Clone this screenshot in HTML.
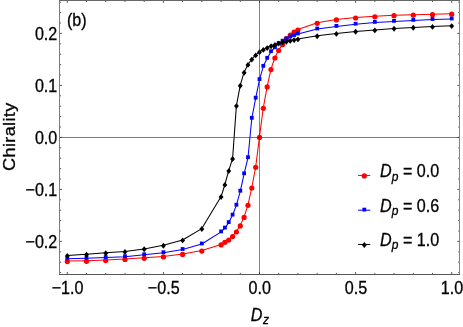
<!DOCTYPE html>
<html><head><meta charset="utf-8"><style>
html,body{margin:0;padding:0;background:#fff;}
svg{display:block;will-change:transform;}
text{font-family:"Liberation Sans",sans-serif;font-size:18.1px;fill:#000;stroke:#000;stroke-width:0.3px;}
</style></head><body>
<svg width="463" height="327" viewBox="0 0 463 327">
<rect width="463" height="327" fill="#fff"/>
<line x1="67.3" y1="274.4" x2="67.3" y2="272.0" stroke="#444" stroke-width="0.9"/>
<line x1="67.3" y1="0.5" x2="67.3" y2="2.9" stroke="#444" stroke-width="0.9"/>
<line x1="86.5" y1="274.4" x2="86.5" y2="272.9" stroke="#444" stroke-width="0.9"/>
<line x1="86.5" y1="0.5" x2="86.5" y2="2.0" stroke="#444" stroke-width="0.9"/>
<line x1="105.7" y1="274.4" x2="105.7" y2="272.9" stroke="#444" stroke-width="0.9"/>
<line x1="105.7" y1="0.5" x2="105.7" y2="2.0" stroke="#444" stroke-width="0.9"/>
<line x1="125.0" y1="274.4" x2="125.0" y2="272.9" stroke="#444" stroke-width="0.9"/>
<line x1="125.0" y1="0.5" x2="125.0" y2="2.0" stroke="#444" stroke-width="0.9"/>
<line x1="144.2" y1="274.4" x2="144.2" y2="272.9" stroke="#444" stroke-width="0.9"/>
<line x1="144.2" y1="0.5" x2="144.2" y2="2.0" stroke="#444" stroke-width="0.9"/>
<line x1="163.4" y1="274.4" x2="163.4" y2="272.0" stroke="#444" stroke-width="0.9"/>
<line x1="163.4" y1="0.5" x2="163.4" y2="2.9" stroke="#444" stroke-width="0.9"/>
<line x1="182.6" y1="274.4" x2="182.6" y2="272.9" stroke="#444" stroke-width="0.9"/>
<line x1="182.6" y1="0.5" x2="182.6" y2="2.0" stroke="#444" stroke-width="0.9"/>
<line x1="201.8" y1="274.4" x2="201.8" y2="272.9" stroke="#444" stroke-width="0.9"/>
<line x1="201.8" y1="0.5" x2="201.8" y2="2.0" stroke="#444" stroke-width="0.9"/>
<line x1="221.1" y1="274.4" x2="221.1" y2="272.9" stroke="#444" stroke-width="0.9"/>
<line x1="221.1" y1="0.5" x2="221.1" y2="2.0" stroke="#444" stroke-width="0.9"/>
<line x1="240.3" y1="274.4" x2="240.3" y2="272.9" stroke="#444" stroke-width="0.9"/>
<line x1="240.3" y1="0.5" x2="240.3" y2="2.0" stroke="#444" stroke-width="0.9"/>
<line x1="259.5" y1="274.4" x2="259.5" y2="272.0" stroke="#444" stroke-width="0.9"/>
<line x1="259.5" y1="0.5" x2="259.5" y2="2.9" stroke="#444" stroke-width="0.9"/>
<line x1="278.7" y1="274.4" x2="278.7" y2="272.9" stroke="#444" stroke-width="0.9"/>
<line x1="278.7" y1="0.5" x2="278.7" y2="2.0" stroke="#444" stroke-width="0.9"/>
<line x1="297.9" y1="274.4" x2="297.9" y2="272.9" stroke="#444" stroke-width="0.9"/>
<line x1="297.9" y1="0.5" x2="297.9" y2="2.0" stroke="#444" stroke-width="0.9"/>
<line x1="317.2" y1="274.4" x2="317.2" y2="272.9" stroke="#444" stroke-width="0.9"/>
<line x1="317.2" y1="0.5" x2="317.2" y2="2.0" stroke="#444" stroke-width="0.9"/>
<line x1="336.4" y1="274.4" x2="336.4" y2="272.9" stroke="#444" stroke-width="0.9"/>
<line x1="336.4" y1="0.5" x2="336.4" y2="2.0" stroke="#444" stroke-width="0.9"/>
<line x1="355.6" y1="274.4" x2="355.6" y2="272.0" stroke="#444" stroke-width="0.9"/>
<line x1="355.6" y1="0.5" x2="355.6" y2="2.9" stroke="#444" stroke-width="0.9"/>
<line x1="374.8" y1="274.4" x2="374.8" y2="272.9" stroke="#444" stroke-width="0.9"/>
<line x1="374.8" y1="0.5" x2="374.8" y2="2.0" stroke="#444" stroke-width="0.9"/>
<line x1="394.0" y1="274.4" x2="394.0" y2="272.9" stroke="#444" stroke-width="0.9"/>
<line x1="394.0" y1="0.5" x2="394.0" y2="2.0" stroke="#444" stroke-width="0.9"/>
<line x1="413.3" y1="274.4" x2="413.3" y2="272.9" stroke="#444" stroke-width="0.9"/>
<line x1="413.3" y1="0.5" x2="413.3" y2="2.0" stroke="#444" stroke-width="0.9"/>
<line x1="432.5" y1="274.4" x2="432.5" y2="272.9" stroke="#444" stroke-width="0.9"/>
<line x1="432.5" y1="0.5" x2="432.5" y2="2.0" stroke="#444" stroke-width="0.9"/>
<line x1="451.7" y1="274.4" x2="451.7" y2="272.0" stroke="#444" stroke-width="0.9"/>
<line x1="451.7" y1="0.5" x2="451.7" y2="2.9" stroke="#444" stroke-width="0.9"/>
<line x1="59.6" y1="272.6" x2="61.1" y2="272.6" stroke="#444" stroke-width="0.9"/>
<line x1="459.7" y1="272.6" x2="458.2" y2="272.6" stroke="#444" stroke-width="0.9"/>
<line x1="59.6" y1="262.2" x2="61.1" y2="262.2" stroke="#444" stroke-width="0.9"/>
<line x1="459.7" y1="262.2" x2="458.2" y2="262.2" stroke="#444" stroke-width="0.9"/>
<line x1="59.6" y1="251.8" x2="61.1" y2="251.8" stroke="#444" stroke-width="0.9"/>
<line x1="459.7" y1="251.8" x2="458.2" y2="251.8" stroke="#444" stroke-width="0.9"/>
<line x1="59.6" y1="241.4" x2="62.0" y2="241.4" stroke="#444" stroke-width="0.9"/>
<line x1="459.7" y1="241.4" x2="457.3" y2="241.4" stroke="#444" stroke-width="0.9"/>
<line x1="59.6" y1="231.0" x2="61.1" y2="231.0" stroke="#444" stroke-width="0.9"/>
<line x1="459.7" y1="231.0" x2="458.2" y2="231.0" stroke="#444" stroke-width="0.9"/>
<line x1="59.6" y1="220.6" x2="61.1" y2="220.6" stroke="#444" stroke-width="0.9"/>
<line x1="459.7" y1="220.6" x2="458.2" y2="220.6" stroke="#444" stroke-width="0.9"/>
<line x1="59.6" y1="210.2" x2="61.1" y2="210.2" stroke="#444" stroke-width="0.9"/>
<line x1="459.7" y1="210.2" x2="458.2" y2="210.2" stroke="#444" stroke-width="0.9"/>
<line x1="59.6" y1="199.8" x2="61.1" y2="199.8" stroke="#444" stroke-width="0.9"/>
<line x1="459.7" y1="199.8" x2="458.2" y2="199.8" stroke="#444" stroke-width="0.9"/>
<line x1="59.6" y1="189.4" x2="62.0" y2="189.4" stroke="#444" stroke-width="0.9"/>
<line x1="459.7" y1="189.4" x2="457.3" y2="189.4" stroke="#444" stroke-width="0.9"/>
<line x1="59.6" y1="179.0" x2="61.1" y2="179.0" stroke="#444" stroke-width="0.9"/>
<line x1="459.7" y1="179.0" x2="458.2" y2="179.0" stroke="#444" stroke-width="0.9"/>
<line x1="59.6" y1="168.6" x2="61.1" y2="168.6" stroke="#444" stroke-width="0.9"/>
<line x1="459.7" y1="168.6" x2="458.2" y2="168.6" stroke="#444" stroke-width="0.9"/>
<line x1="59.6" y1="158.2" x2="61.1" y2="158.2" stroke="#444" stroke-width="0.9"/>
<line x1="459.7" y1="158.2" x2="458.2" y2="158.2" stroke="#444" stroke-width="0.9"/>
<line x1="59.6" y1="147.8" x2="61.1" y2="147.8" stroke="#444" stroke-width="0.9"/>
<line x1="459.7" y1="147.8" x2="458.2" y2="147.8" stroke="#444" stroke-width="0.9"/>
<line x1="59.6" y1="137.4" x2="62.0" y2="137.4" stroke="#444" stroke-width="0.9"/>
<line x1="459.7" y1="137.4" x2="457.3" y2="137.4" stroke="#444" stroke-width="0.9"/>
<line x1="59.6" y1="127.0" x2="61.1" y2="127.0" stroke="#444" stroke-width="0.9"/>
<line x1="459.7" y1="127.0" x2="458.2" y2="127.0" stroke="#444" stroke-width="0.9"/>
<line x1="59.6" y1="116.6" x2="61.1" y2="116.6" stroke="#444" stroke-width="0.9"/>
<line x1="459.7" y1="116.6" x2="458.2" y2="116.6" stroke="#444" stroke-width="0.9"/>
<line x1="59.6" y1="106.2" x2="61.1" y2="106.2" stroke="#444" stroke-width="0.9"/>
<line x1="459.7" y1="106.2" x2="458.2" y2="106.2" stroke="#444" stroke-width="0.9"/>
<line x1="59.6" y1="95.8" x2="61.1" y2="95.8" stroke="#444" stroke-width="0.9"/>
<line x1="459.7" y1="95.8" x2="458.2" y2="95.8" stroke="#444" stroke-width="0.9"/>
<line x1="59.6" y1="85.4" x2="62.0" y2="85.4" stroke="#444" stroke-width="0.9"/>
<line x1="459.7" y1="85.4" x2="457.3" y2="85.4" stroke="#444" stroke-width="0.9"/>
<line x1="59.6" y1="75.0" x2="61.1" y2="75.0" stroke="#444" stroke-width="0.9"/>
<line x1="459.7" y1="75.0" x2="458.2" y2="75.0" stroke="#444" stroke-width="0.9"/>
<line x1="59.6" y1="64.6" x2="61.1" y2="64.6" stroke="#444" stroke-width="0.9"/>
<line x1="459.7" y1="64.6" x2="458.2" y2="64.6" stroke="#444" stroke-width="0.9"/>
<line x1="59.6" y1="54.2" x2="61.1" y2="54.2" stroke="#444" stroke-width="0.9"/>
<line x1="459.7" y1="54.2" x2="458.2" y2="54.2" stroke="#444" stroke-width="0.9"/>
<line x1="59.6" y1="43.8" x2="61.1" y2="43.8" stroke="#444" stroke-width="0.9"/>
<line x1="459.7" y1="43.8" x2="458.2" y2="43.8" stroke="#444" stroke-width="0.9"/>
<line x1="59.6" y1="33.4" x2="62.0" y2="33.4" stroke="#444" stroke-width="0.9"/>
<line x1="459.7" y1="33.4" x2="457.3" y2="33.4" stroke="#444" stroke-width="0.9"/>
<line x1="59.6" y1="23.0" x2="61.1" y2="23.0" stroke="#444" stroke-width="0.9"/>
<line x1="459.7" y1="23.0" x2="458.2" y2="23.0" stroke="#444" stroke-width="0.9"/>
<line x1="59.6" y1="12.6" x2="61.1" y2="12.6" stroke="#444" stroke-width="0.9"/>
<line x1="459.7" y1="12.6" x2="458.2" y2="12.6" stroke="#444" stroke-width="0.9"/>
<line x1="59.6" y1="2.2" x2="61.1" y2="2.2" stroke="#444" stroke-width="0.9"/>
<line x1="459.7" y1="2.2" x2="458.2" y2="2.2" stroke="#444" stroke-width="0.9"/>
<polyline fill="none" stroke="#f00" stroke-width="1.05" stroke-linejoin="round" points="67.3,261.1 86.5,260.8 105.7,260.1 125.0,259.0 144.2,257.8 163.4,256.4 182.6,253.9 201.8,250.6 221.1,244.4 224.9,241.8 228.7,239.6 232.6,236.1 236.4,231.5 240.3,225.4 244.1,216.9 248.0,204.8 251.8,187.5 255.7,166.8 259.5,136.9 263.3,107.8 267.2,86.4 271.0,69.1 274.9,57.5 278.7,50.0 282.6,44.1 286.4,38.1 290.3,34.5 294.1,31.7 297.9,29.5 317.2,22.8 336.4,19.4 355.6,17.5 374.8,16.3 394.0,15.2 413.3,14.7 432.5,14.2 451.7,13.7"/>
<circle cx="67.3" cy="261.6" r="2.60" fill="#f00"/>
<circle cx="86.5" cy="261.3" r="2.60" fill="#f00"/>
<circle cx="105.7" cy="260.6" r="2.60" fill="#f00"/>
<circle cx="125.0" cy="259.5" r="2.60" fill="#f00"/>
<circle cx="144.2" cy="258.3" r="2.60" fill="#f00"/>
<circle cx="163.4" cy="256.9" r="2.60" fill="#f00"/>
<circle cx="182.6" cy="254.4" r="2.60" fill="#f00"/>
<circle cx="201.8" cy="251.1" r="2.60" fill="#f00"/>
<circle cx="221.1" cy="244.9" r="2.60" fill="#f00"/>
<circle cx="224.9" cy="242.3" r="2.60" fill="#f00"/>
<circle cx="228.7" cy="240.1" r="2.60" fill="#f00"/>
<circle cx="232.6" cy="236.6" r="2.60" fill="#f00"/>
<circle cx="236.4" cy="232.0" r="2.60" fill="#f00"/>
<circle cx="240.3" cy="225.9" r="2.60" fill="#f00"/>
<circle cx="244.1" cy="217.4" r="2.60" fill="#f00"/>
<circle cx="248.0" cy="205.3" r="2.60" fill="#f00"/>
<circle cx="251.8" cy="188.0" r="2.60" fill="#f00"/>
<circle cx="255.7" cy="167.3" r="2.60" fill="#f00"/>
<circle cx="259.5" cy="137.4" r="2.60" fill="#f00"/>
<circle cx="263.3" cy="108.3" r="2.60" fill="#f00"/>
<circle cx="267.2" cy="86.9" r="2.60" fill="#f00"/>
<circle cx="271.0" cy="69.6" r="2.60" fill="#f00"/>
<circle cx="274.9" cy="58.0" r="2.60" fill="#f00"/>
<circle cx="278.7" cy="50.5" r="2.60" fill="#f00"/>
<circle cx="282.6" cy="44.6" r="2.60" fill="#f00"/>
<circle cx="286.4" cy="38.6" r="2.60" fill="#f00"/>
<circle cx="290.3" cy="35.0" r="2.60" fill="#f00"/>
<circle cx="294.1" cy="32.2" r="2.60" fill="#f00"/>
<circle cx="297.9" cy="30.0" r="2.60" fill="#f00"/>
<circle cx="317.2" cy="23.3" r="2.60" fill="#f00"/>
<circle cx="336.4" cy="19.9" r="2.60" fill="#f00"/>
<circle cx="355.6" cy="18.0" r="2.60" fill="#f00"/>
<circle cx="374.8" cy="16.8" r="2.60" fill="#f00"/>
<circle cx="394.0" cy="15.7" r="2.60" fill="#f00"/>
<circle cx="413.3" cy="15.2" r="2.60" fill="#f00"/>
<circle cx="432.5" cy="14.7" r="2.60" fill="#f00"/>
<circle cx="451.7" cy="14.2" r="2.60" fill="#f00"/>
<polyline fill="none" stroke="#00f" stroke-width="1.05" stroke-linejoin="round" points="67.3,258.7 86.5,258.3 105.7,257.6 125.0,256.7 144.2,254.8 163.4,252.7 182.6,249.5 201.8,244.0 221.1,231.9 224.9,228.1 228.7,222.6 232.6,215.1 236.4,205.2 240.3,191.2 244.1,173.8 248.0,157.7 251.8,118.3 255.7,98.2 259.5,79.6 263.3,66.3 267.2,58.3 271.0,51.7 274.9,47.7 278.7,43.5 282.6,41.2 286.4,39.0 290.3,37.0 294.1,35.5 297.9,34.0 317.2,29.0 336.4,26.4 355.6,24.2 374.8,22.4 394.0,21.4 413.3,20.4 432.5,19.5 451.7,19.0"/>
<rect x="65.4" y="256.3" width="3.8" height="3.8" fill="#00f"/>
<rect x="84.6" y="255.9" width="3.8" height="3.8" fill="#00f"/>
<rect x="103.8" y="255.2" width="3.8" height="3.8" fill="#00f"/>
<rect x="123.1" y="254.3" width="3.8" height="3.8" fill="#00f"/>
<rect x="142.3" y="252.4" width="3.8" height="3.8" fill="#00f"/>
<rect x="161.5" y="250.3" width="3.8" height="3.8" fill="#00f"/>
<rect x="180.7" y="247.1" width="3.8" height="3.8" fill="#00f"/>
<rect x="199.9" y="241.6" width="3.8" height="3.8" fill="#00f"/>
<rect x="219.2" y="229.5" width="3.8" height="3.8" fill="#00f"/>
<rect x="223.0" y="225.7" width="3.8" height="3.8" fill="#00f"/>
<rect x="226.8" y="220.2" width="3.8" height="3.8" fill="#00f"/>
<rect x="230.7" y="212.7" width="3.8" height="3.8" fill="#00f"/>
<rect x="234.5" y="202.8" width="3.8" height="3.8" fill="#00f"/>
<rect x="238.4" y="188.8" width="3.8" height="3.8" fill="#00f"/>
<rect x="242.2" y="171.4" width="3.8" height="3.8" fill="#00f"/>
<rect x="246.1" y="155.3" width="3.8" height="3.8" fill="#00f"/>
<rect x="249.9" y="115.9" width="3.8" height="3.8" fill="#00f"/>
<rect x="253.8" y="95.8" width="3.8" height="3.8" fill="#00f"/>
<rect x="257.6" y="77.2" width="3.8" height="3.8" fill="#00f"/>
<rect x="261.4" y="63.9" width="3.8" height="3.8" fill="#00f"/>
<rect x="265.3" y="55.9" width="3.8" height="3.8" fill="#00f"/>
<rect x="269.1" y="49.3" width="3.8" height="3.8" fill="#00f"/>
<rect x="273.0" y="45.3" width="3.8" height="3.8" fill="#00f"/>
<rect x="276.8" y="41.1" width="3.8" height="3.8" fill="#00f"/>
<rect x="280.7" y="38.8" width="3.8" height="3.8" fill="#00f"/>
<rect x="284.5" y="36.6" width="3.8" height="3.8" fill="#00f"/>
<rect x="288.4" y="34.6" width="3.8" height="3.8" fill="#00f"/>
<rect x="292.2" y="33.1" width="3.8" height="3.8" fill="#00f"/>
<rect x="296.0" y="31.6" width="3.8" height="3.8" fill="#00f"/>
<rect x="315.3" y="26.6" width="3.8" height="3.8" fill="#00f"/>
<rect x="334.5" y="24.0" width="3.8" height="3.8" fill="#00f"/>
<rect x="353.7" y="21.8" width="3.8" height="3.8" fill="#00f"/>
<rect x="372.9" y="20.0" width="3.8" height="3.8" fill="#00f"/>
<rect x="392.1" y="19.0" width="3.8" height="3.8" fill="#00f"/>
<rect x="411.4" y="18.0" width="3.8" height="3.8" fill="#00f"/>
<rect x="430.6" y="17.1" width="3.8" height="3.8" fill="#00f"/>
<rect x="449.8" y="16.6" width="3.8" height="3.8" fill="#00f"/>
<polyline fill="none" stroke="#000" stroke-width="1.05" stroke-linejoin="round" points="67.3,255.5 86.5,254.2 105.7,252.8 125.0,251.5 144.2,248.9 163.4,245.2 182.6,240.0 201.8,228.6 221.1,196.6 224.9,184.5 228.7,170.7 232.6,158.6 236.4,105.6 240.3,85.2 244.1,72.2 248.0,64.5 251.8,59.1 255.7,54.9 259.5,51.8 263.3,49.4 267.2,47.6 271.0,45.8 274.9,44.4 278.7,43.1 282.6,42.1 286.4,41.2 290.3,40.4 294.1,39.6 297.9,38.9 317.2,35.8 336.4,33.4 355.6,31.4 374.8,29.9 394.0,28.4 413.3,27.4 432.5,26.4 451.7,25.7"/>
<path d="M67.30 252.95 l2.45 2.95 l-2.45 2.95 l-2.45 -2.95 z" fill="#000"/>
<path d="M86.52 251.75 l2.45 2.95 l-2.45 2.95 l-2.45 -2.95 z" fill="#000"/>
<path d="M105.74 250.25 l2.45 2.95 l-2.45 2.95 l-2.45 -2.95 z" fill="#000"/>
<path d="M124.96 248.95 l2.45 2.95 l-2.45 2.95 l-2.45 -2.95 z" fill="#000"/>
<path d="M144.18 246.35 l2.45 2.95 l-2.45 2.95 l-2.45 -2.95 z" fill="#000"/>
<path d="M163.40 242.75 l2.45 2.95 l-2.45 2.95 l-2.45 -2.95 z" fill="#000"/>
<path d="M182.62 237.45 l2.45 2.95 l-2.45 2.95 l-2.45 -2.95 z" fill="#000"/>
<path d="M201.84 226.05 l2.45 2.95 l-2.45 2.95 l-2.45 -2.95 z" fill="#000"/>
<path d="M221.06 194.05 l2.45 2.95 l-2.45 2.95 l-2.45 -2.95 z" fill="#000"/>
<path d="M224.90 181.95 l2.45 2.95 l-2.45 2.95 l-2.45 -2.95 z" fill="#000"/>
<path d="M228.75 168.15 l2.45 2.95 l-2.45 2.95 l-2.45 -2.95 z" fill="#000"/>
<path d="M232.59 156.05 l2.45 2.95 l-2.45 2.95 l-2.45 -2.95 z" fill="#000"/>
<path d="M236.44 103.15 l2.45 2.95 l-2.45 2.95 l-2.45 -2.95 z" fill="#000"/>
<path d="M240.28 82.75 l2.45 2.95 l-2.45 2.95 l-2.45 -2.95 z" fill="#000"/>
<path d="M244.12 69.75 l2.45 2.95 l-2.45 2.95 l-2.45 -2.95 z" fill="#000"/>
<path d="M247.97 61.95 l2.45 2.95 l-2.45 2.95 l-2.45 -2.95 z" fill="#000"/>
<path d="M251.81 56.65 l2.45 2.95 l-2.45 2.95 l-2.45 -2.95 z" fill="#000"/>
<path d="M255.66 52.45 l2.45 2.95 l-2.45 2.95 l-2.45 -2.95 z" fill="#000"/>
<path d="M259.50 49.25 l2.45 2.95 l-2.45 2.95 l-2.45 -2.95 z" fill="#000"/>
<path d="M263.34 46.95 l2.45 2.95 l-2.45 2.95 l-2.45 -2.95 z" fill="#000"/>
<path d="M267.19 45.15 l2.45 2.95 l-2.45 2.95 l-2.45 -2.95 z" fill="#000"/>
<path d="M271.03 43.25 l2.45 2.95 l-2.45 2.95 l-2.45 -2.95 z" fill="#000"/>
<path d="M274.88 41.95 l2.45 2.95 l-2.45 2.95 l-2.45 -2.95 z" fill="#000"/>
<path d="M278.72 40.65 l2.45 2.95 l-2.45 2.95 l-2.45 -2.95 z" fill="#000"/>
<path d="M282.56 39.65 l2.45 2.95 l-2.45 2.95 l-2.45 -2.95 z" fill="#000"/>
<path d="M286.41 38.75 l2.45 2.95 l-2.45 2.95 l-2.45 -2.95 z" fill="#000"/>
<path d="M290.25 37.95 l2.45 2.95 l-2.45 2.95 l-2.45 -2.95 z" fill="#000"/>
<path d="M294.10 37.15 l2.45 2.95 l-2.45 2.95 l-2.45 -2.95 z" fill="#000"/>
<path d="M297.94 36.45 l2.45 2.95 l-2.45 2.95 l-2.45 -2.95 z" fill="#000"/>
<path d="M317.16 33.35 l2.45 2.95 l-2.45 2.95 l-2.45 -2.95 z" fill="#000"/>
<path d="M336.38 30.95 l2.45 2.95 l-2.45 2.95 l-2.45 -2.95 z" fill="#000"/>
<path d="M355.60 28.85 l2.45 2.95 l-2.45 2.95 l-2.45 -2.95 z" fill="#000"/>
<path d="M374.82 27.45 l2.45 2.95 l-2.45 2.95 l-2.45 -2.95 z" fill="#000"/>
<path d="M394.04 25.85 l2.45 2.95 l-2.45 2.95 l-2.45 -2.95 z" fill="#000"/>
<path d="M413.26 24.85 l2.45 2.95 l-2.45 2.95 l-2.45 -2.95 z" fill="#000"/>
<path d="M432.48 23.95 l2.45 2.95 l-2.45 2.95 l-2.45 -2.95 z" fill="#000"/>
<path d="M451.70 23.15 l2.45 2.95 l-2.45 2.95 l-2.45 -2.95 z" fill="#000"/>
<rect x="60" y="137" width="399" height="1" fill="rgba(40,40,40,0.62)"/>
<rect x="259" y="1" width="1" height="273" fill="rgba(40,40,40,0.58)"/>
<rect x="59" y="0" width="401" height="1" fill="#686868"/>
<rect x="59" y="274" width="401" height="1" fill="#585858"/>
<rect x="59" y="1" width="1" height="273" fill="#7c7c7c"/>
<rect x="459" y="1" width="1" height="273" fill="#848484"/>
<line x1="358.1" y1="175.45" x2="370.3" y2="175.45" stroke="#f00" stroke-width="1.0"/>
<circle cx="364.3" cy="175.9" r="2.60" fill="#f00"/>
<line x1="358.1" y1="210.20" x2="370.3" y2="210.20" stroke="#00f" stroke-width="1.0"/>
<rect x="362.4" y="207.7" width="3.8" height="3.8" fill="#00f"/>
<line x1="358.1" y1="244.45" x2="370.3" y2="244.45" stroke="#000" stroke-width="1.0"/>
<path d="M364.30 242.05 l2.45 2.95 l-2.45 2.95 l-2.45 -2.95 z" fill="#000"/>
<text transform="translate(57.3,40.0) scale(0.89,1)" text-anchor="end" >0.2</text>
<text transform="translate(57.3,92.0) scale(0.89,1)" text-anchor="end" >0.1</text>
<text transform="translate(57.3,144.0) scale(0.89,1)" text-anchor="end" >0.0</text>
<text transform="translate(57.3,196.0) scale(0.89,1)" text-anchor="end" >−0.1</text>
<text transform="translate(57.3,248.0) scale(0.89,1)" text-anchor="end" >−0.2</text>
<text transform="translate(67.6,294.0) scale(0.89,1)" text-anchor="middle" >−1.0</text>
<text transform="translate(163.7,294.0) scale(0.89,1)" text-anchor="middle" >−0.5</text>
<text transform="translate(259.8,294.0) scale(0.89,1)" text-anchor="middle" >0.0</text>
<text transform="translate(355.9,294.0) scale(0.89,1)" text-anchor="middle" >0.5</text>
<text transform="translate(452.0,294.0) scale(0.89,1)" text-anchor="middle" >1.0</text>
<text transform="translate(67.0,26.2) scale(0.89,1)" text-anchor="start" >(b)</text>
<text transform="translate(380.1,177.3) scale(0.89,1)"><tspan font-style="italic">D</tspan><tspan font-style="italic" font-size="13.5" dy="3.2">p</tspan><tspan dy="-3.2"> = 0.0</tspan></text>
<text transform="translate(380.1,211.6) scale(0.89,1)"><tspan font-style="italic">D</tspan><tspan font-style="italic" font-size="13.5" dy="3.2">p</tspan><tspan dy="-3.2"> = 0.6</tspan></text>
<text transform="translate(380.1,245.9) scale(0.89,1)"><tspan font-style="italic">D</tspan><tspan font-style="italic" font-size="13.5" dy="3.2">p</tspan><tspan dy="-3.2"> = 1.0</tspan></text>
<text transform="translate(250.8,320.8) scale(0.89,1)"><tspan font-style="italic">D</tspan><tspan font-style="italic" font-size="13.5" dy="3.2" dx="0.6">z</tspan></text>
<text transform="translate(14.8,170.9) rotate(-90) scale(1,0.89)" textLength="68.2" lengthAdjust="spacing">Chirality</text>
</svg>
</body></html>
